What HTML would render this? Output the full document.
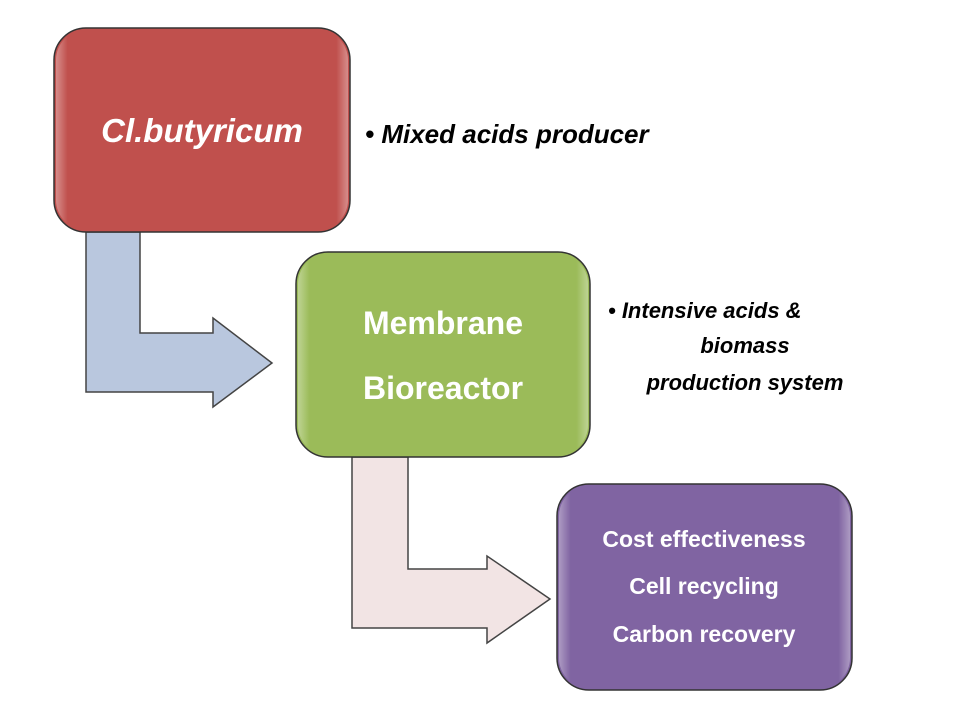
<!DOCTYPE html>
<html><head><meta charset="utf-8"><style>
html,body{margin:0;padding:0;background:#fff;width:960px;height:720px;overflow:hidden}
svg{display:block}
text{font-family:"Liberation Sans",Arial,sans-serif;font-weight:bold}
</style></head><body>
<svg width="960" height="720" viewBox="0 0 960 720">
<defs>
<linearGradient id="hl" x1="0" y1="0" x2="1" y2="0">
<stop offset="0" stop-color="#fff" stop-opacity="0.35"/><stop offset="0.04" stop-color="#fff" stop-opacity="0"/>
<stop offset="0.96" stop-color="#fff" stop-opacity="0"/><stop offset="1" stop-color="#fff" stop-opacity="0.35"/></linearGradient>
</defs>
<!-- blue arrow -->
<path d="M86,232 L140,232 L140,333 L213,333 L213,318 L272,363 L213,407 L213,392 L86,392 Z" fill="#b9c7de" stroke="#444" stroke-width="1.5"/>
<!-- pink arrow -->
<path d="M352,457 L408,457 L408,569 L487,569 L487,556 L550,599 L487,643 L487,628 L352,628 Z" fill="#f2e4e4" stroke="#444" stroke-width="1.5"/>
<!-- red box -->
<rect x="54" y="28" width="296" height="204" rx="32" fill="#c0504d" stroke="#333" stroke-width="1.5"/>
<rect x="56" y="30" width="292" height="200" rx="30" fill="url(#hl)"/>
<!-- green box -->
<rect x="296" y="252" width="294" height="205" rx="32" fill="#9bbb59" stroke="#333" stroke-width="1.5"/>
<rect x="298" y="254" width="290" height="201" rx="30" fill="url(#hl)"/>
<!-- purple box -->
<rect x="557" y="484" width="295" height="206" rx="32" fill="#8064a2" stroke="#333" stroke-width="1.5"/>
<rect x="559" y="486" width="291" height="202" rx="30" fill="url(#hl)"/>

<text x="202" y="142" fill="#fff" font-size="33" font-style="italic" text-anchor="middle">Cl.butyricum</text>
<text x="443" y="334" fill="#fff" font-size="32" text-anchor="middle">Membrane</text>
<text x="443" y="399" fill="#fff" font-size="32" text-anchor="middle">Bioreactor</text>
<text x="704" y="547" fill="#fff" font-size="23" text-anchor="middle">Cost effectiveness</text>
<text x="704" y="594" fill="#fff" font-size="23" text-anchor="middle">Cell recycling</text>
<text x="704" y="642" fill="#fff" font-size="23" text-anchor="middle">Carbon recovery</text>

<text x="365" y="143" fill="#000" font-size="26" font-style="italic">• Mixed acids producer</text>
<text x="608" y="318" fill="#000" font-size="22" font-style="italic">• Intensive acids &amp;</text>
<text x="745" y="353" fill="#000" font-size="22" font-style="italic" text-anchor="middle">biomass</text>
<text x="745" y="390" fill="#000" font-size="22" font-style="italic" text-anchor="middle">production system</text>
</svg>
</body></html>
